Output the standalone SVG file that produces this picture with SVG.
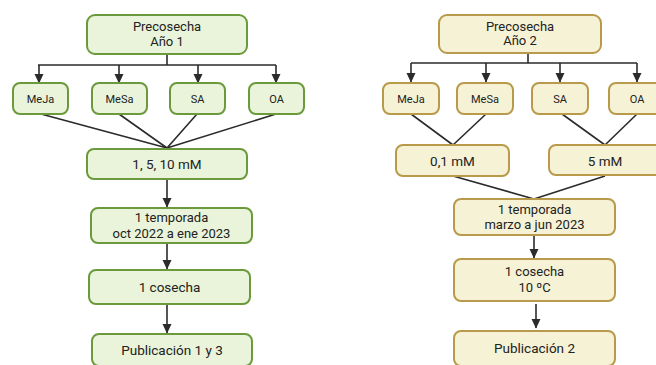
<svg xmlns="http://www.w3.org/2000/svg" width="656" height="365" viewBox="0 0 656 365">
<defs>
<marker id="ah" markerWidth="10" markerHeight="10" refX="9" refY="4.5" orient="auto" markerUnits="userSpaceOnUse">
<path d="M0,0 L9.5,4.5 L0,9 Z" fill="#2b2b2b"/>
</marker>
<style>
.g rect{fill:#e9f4da;stroke:#6a9a3c;stroke-width:2}
.y rect{fill:#f6f2d6;stroke:#b89a4a;stroke-width:2}
text{font-family:Roboto,"Liberation Sans",sans-serif;fill:#222;text-anchor:middle}
.s{font-size:11px}
.m{font-size:13px}
.l{font-size:13.5px}
.c path{fill:none;stroke:#2b2b2b;stroke-width:1.6}
.c .a{marker-end:url(#ah)}
</style>
</defs>
<rect width="656" height="365" fill="#ffffff"/>
<g class="c" id="connectors">
<path d="M167,54 V65 M38,65 H276"/>
<path class="a" d="M39,65 V83"/>
<path class="a" d="M119,65 V83"/>
<path class="a" d="M198,65 V83"/>
<path class="a" d="M276,65 V83"/>
<path d="M41,114 L167,148 M119,114 L167,148 M197,114 L167,148 M276,114 L167,148"/>
<path class="a" d="M167,179 V207"/>
<path class="a" d="M167,243 V269"/>
<path class="a" d="M167,304 V333"/>
<path d="M528,53 V63 M411,63 H637"/>
<path class="a" d="M411,63 V82"/>
<path class="a" d="M486,63 V82"/>
<path class="a" d="M560,63 V82"/>
<path class="a" d="M637,63 V82"/>
<path d="M411,114 L453,145 M486,114 L453,145 M562,114 L605,145 M637,114 L605,145"/>
<path d="M453,176 L534,199 M605,176 L534,199"/>
<path class="a" d="M534,235 V258"/>
<path class="a" d="M536,304 V328"/>
</g>
<g class="g" id="pre1"><rect x="87" y="15" width="160" height="39" rx="8"/><text class="m" x="167" y="31">Precosecha</text><text class="m" x="167" y="46">Año 1</text></g>
<g class="g" id="meja1"><rect x="13" y="83" width="55" height="31" rx="7"/><text class="s" x="40.5" y="102.5">MeJa</text></g>
<g class="g" id="mesa1"><rect x="92" y="83" width="55" height="31" rx="7"/><text class="s" x="119.5" y="102.5">MeSa</text></g>
<g class="g" id="sa1"><rect x="170" y="83" width="55" height="31" rx="7"/><text class="s" x="197.5" y="102.5">SA</text></g>
<g class="g" id="oa1"><rect x="249" y="83" width="55" height="31" rx="7"/><text class="s" x="276.5" y="102.5">OA</text></g>
<g class="g" id="conc1"><rect x="87" y="149" width="160" height="30" rx="7"/><text class="l" x="167" y="169">1, 5, 10 mM</text></g>
<g class="g" id="temp1"><rect x="91" y="208" width="161" height="35" rx="7"/><text class="m" x="171.5" y="222">1 temporada</text><text class="m" x="171.5" y="237.5">oct 2022 a ene 2023</text></g>
<g class="g" id="cos1"><rect x="89" y="270" width="161" height="34" rx="7"/><text class="l" x="169.5" y="292">1 cosecha</text></g>
<g class="g" id="pub1"><rect x="92" y="334" width="160" height="32" rx="7"/><text class="l" x="172" y="355">Publicación 1 y 3</text></g>
<g class="y" id="pre2"><rect x="439" y="15" width="162" height="38" rx="8"/><text class="m" x="520" y="31">Precosecha</text><text class="m" x="520" y="45">Año 2</text></g>
<g class="y" id="meja2"><rect x="383" y="83" width="56" height="31" rx="7"/><text class="s" x="411" y="102.5">MeJa</text></g>
<g class="y" id="mesa2"><rect x="457" y="83" width="56" height="31" rx="7"/><text class="s" x="485" y="102.5">MeSa</text></g>
<g class="y" id="sa2"><rect x="532" y="83" width="56" height="31" rx="7"/><text class="s" x="560" y="102.5">SA</text></g>
<g class="y" id="oa2"><rect x="609" y="83" width="56" height="31" rx="7"/><text class="s" x="637" y="102.5">OA</text></g>
<g class="y" id="conc2a"><rect x="396" y="145" width="113" height="31" rx="7"/><text class="l" x="452.5" y="165.5">0,1 mM</text></g>
<g class="y" id="conc2b"><rect x="549" y="145" width="113" height="30" rx="7"/><text class="l" x="605" y="165.5">5 mM</text></g>
<g class="y" id="temp2"><rect x="454" y="199" width="161" height="36" rx="7"/><text class="m" x="534.5" y="213.5">1 temporada</text><text class="m" x="534.5" y="229">marzo a jun 2023</text></g>
<g class="y" id="cos2"><rect x="454" y="259" width="161" height="42" rx="7"/><text class="m" x="534.5" y="276">1 cosecha</text><text class="m" x="534.5" y="292">10 ºC</text></g>
<g class="y" id="pub2"><rect x="454" y="331" width="161" height="35" rx="7"/><text class="l" x="534.5" y="352.5">Publicación 2</text></g>
</svg>
